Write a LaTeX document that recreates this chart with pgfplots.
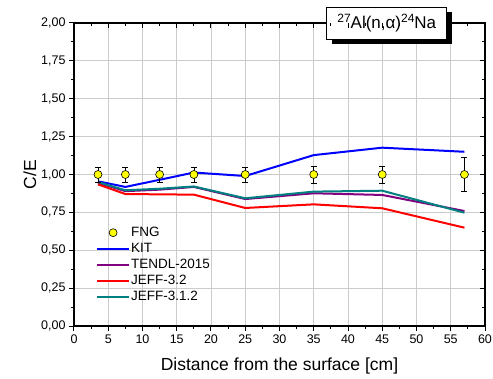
\documentclass[border=0pt]{standalone}
\usepackage{pgfplots}
\pgfplotsset{compat=1.18}
\usepackage{fontspec}
\setmainfont{Liberation Sans}
\usetikzlibrary{shadows}
\definecolor{kitblue}{RGB}{0,0,255}
\definecolor{tendlpurple}{RGB}{128,0,128}
\definecolor{jeffred}{RGB}{255,0,0}
\definecolor{jeffteal}{RGB}{0,128,128}
\definecolor{fngyellow}{RGB}{255,255,0}
\begin{document}
\begin{tikzpicture}
\useasboundingbox (-74pt,-52pt) rectangle (419pt,326pt);
\pgfplotsset{every axis/.append style={
  scale only axis, width=411pt, height=303pt,
  xmin=0, xmax=60, ymin=0, ymax=2,
  xtick={0,5,...,60}, ytick={0,0.25,...,2},
  minor x tick num=1, minor y tick num=1,
  axis line style={line width=1.3pt},
  major tick length=5pt, minor tick length=3pt,
  every tick/.style={black, line width=1pt},
}}
\begin{axis}[
  at={(0,0)}, anchor=south west,
  clip=false,
  tick align=outside,
  xtick pos=left, ytick pos=left,
  grid=major,
  major grid style={color=black!20, line width=0.9pt},
  /pgf/number format/assume math mode=true,
  yticklabel style={/pgf/number format/.cd, fixed, fixed zerofill, precision=2, use comma},
  xticklabel style={/pgf/number format/.cd, fixed},
  ticklabel style={font=\fontsize{12.5}{15}\selectfont},
  xlabel={Distance from the surface [cm]},
  ylabel={C/E},
  label style={font=\fontsize{17.5}{20}\selectfont},
  xlabel style={yshift=-8pt},
  ylabel style={yshift=-2pt},
  legend style={draw=none, fill=none, at={(axis cs:3.2,0.66)}, anchor=north west,
    font=\fontsize{13.5}{16}\selectfont, row sep=3.1pt,
    inner sep=0pt, nodes={inner sep=1pt}},
  legend cell align=left,
  legend image code/.code={\draw[mark repeat=2,mark phase=2,#1] plot coordinates {(0pt,0pt) (16pt,0pt) (32pt,0pt)};},
]
\addlegendimage{only marks, mark=*, mark size=4pt, mark options={fill=fngyellow, draw=black, line width=0.6pt}}
\addlegendentry{FNG}
\addlegendimage{kitblue, line width=2pt}
\addlegendentry{KIT}
\addlegendimage{tendlpurple, line width=2pt}
\addlegendentry{TENDL-2015}
\addlegendimage{jeffred, line width=2pt}
\addlegendentry{JEFF-3.2}
\addlegendimage{jeffteal, line width=2pt}
\addlegendentry{JEFF-3.1.2}
\addplot[forget plot, kitblue, line width=2pt] coordinates {
  (3.5,0.955) (7.5,0.918) (12.5,0.965) (17.5,1.013) (25,0.99) (35,1.128) (45,1.177) (57,1.150)};
\addplot[forget plot, tendlpurple, line width=2pt] coordinates {
  (3.5,0.945) (7.5,0.89) (12.5,0.90) (17.5,0.918) (25,0.838) (35,0.876) (45,0.865) (57,0.759)};
\addplot[forget plot, jeffred, line width=2pt] coordinates {
  (3.5,0.935) (7.5,0.871) (12.5,0.869) (17.5,0.867) (25,0.779) (35,0.803) (45,0.777) (57,0.649)};
\addplot[forget plot, jeffteal, line width=2pt] coordinates {
  (3.5,0.95) (7.5,0.896) (12.5,0.906) (17.5,0.921) (25,0.843) (35,0.887) (45,0.893) (57,0.748)};
\addplot[forget plot, only marks, mark=*, mark size=4pt, mark options={fill=fngyellow, draw=black, line width=0.6pt},
  error bars/.cd, y dir=both, y explicit,
  error bar style={black, line width=0.7pt},
  error mark options={black, rotate=90, mark size=3pt, line width=0.7pt}]
  table[x=x, y=y, y error=e] {
  x y e
  3.5 1.00 0.05
  7.5 1.00 0.05
  12.5 1.00 0.05
  17.5 1.00 0.05
  25 1.00 0.05
  35 1.00 0.056
  45 1.00 0.056
  57 1.00 0.112
};
\node[draw=black, line width=0.9pt, fill=white, minimum width=120pt, minimum height=32pt,
  inner sep=0pt, drop shadow={shadow xshift=5pt, shadow yshift=-5pt, fill=black, opacity=1},
  font=\fontsize{17}{20}\selectfont]
  at (axis cs:45.66,2.0) {\raisebox{0.75ex}{\fontsize{12}{13}\selectfont 27}Al(n,α)\raisebox{0.75ex}{\fontsize{12}{13}\selectfont 24}Na};
\end{axis}
\begin{axis}[
  at={(0,0)}, anchor=south west,
  tick align=inside,
  xtick pos=right, ytick pos=right,
  xticklabels={}, yticklabels={},
  axis line style={draw=none},
]
\end{axis}
\end{tikzpicture}
\end{document}
